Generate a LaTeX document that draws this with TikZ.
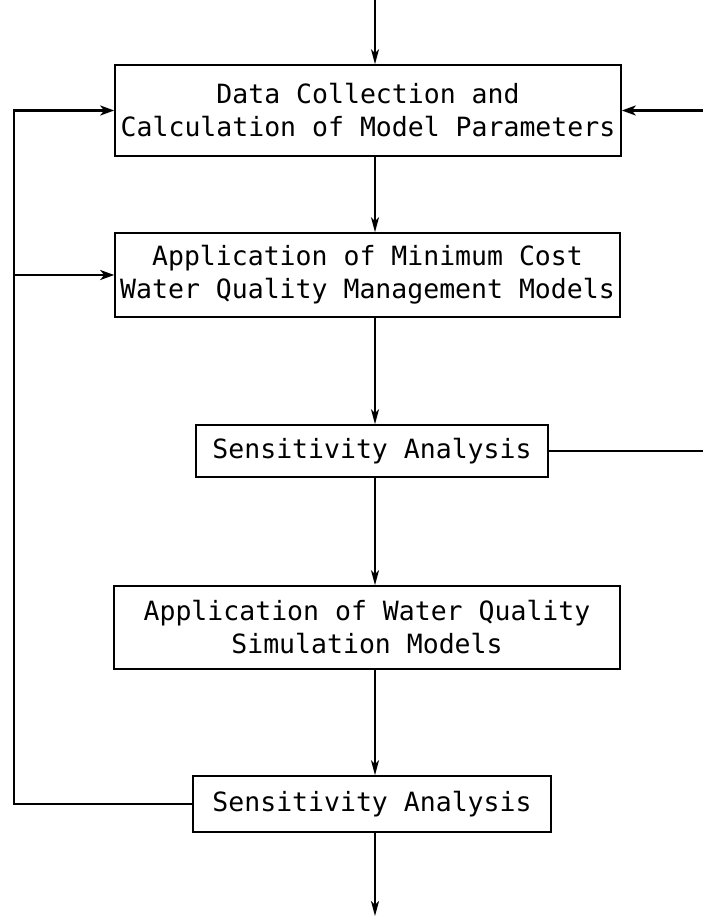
\documentclass[tikz,border=0pt]{standalone}
\usepackage{fontspec}
\setmonofont{DejaVu Sans Mono}
\usetikzlibrary{arrows.meta}
\tikzset{
    %Define standard arrow tip
    >={Stealth[length=15pt,width=8pt,inset=4pt]},
    %Define style for boxes
    stage/.style={
           rectangle,
           draw=black, line width=1.6pt,
           inner sep=0pt,
           font=\ttfamily\fontsize{26.5}{33}\selectfont,
           align=center},
    % Define arrow styles
    flow/.style={
           ->,
           line width=1.4pt},
    feedback/.style={
           -{Stealth[length=14pt,width=10pt,inset=4pt]},
           line width=2.8pt}
}

\begin{document}
\begin{tikzpicture}[x=1pt,y=1pt]
\useasboundingbox (0,0) rectangle (702,-918);
 %nodes
\node[stage, minimum width=506pt, minimum height=91pt] (1) at (368,-110.5) {Data Collection and\\Calculation of Model Parameters};
\node[stage, minimum width=505pt, minimum height=84pt] (2) at (367.5,-275) {Application of Minimum Cost\\Water Quality Management Models};
\node[stage, minimum width=352pt, minimum height=52pt] (3) at (372,-451) {Sensitivity Analysis};
\node[stage, minimum width=506pt, minimum height=83pt] (4) at (367,-627.5) {Application of Water Quality\\Simulation Models};
\node[stage, minimum width=358pt, minimum height=56pt] (5) at (372,-804) {Sensitivity Analysis};

 %free ends of the main line and the loops
\coordinate (in) at (375,0);
\coordinate (out) at (375,-916);
\coordinate (lft) at (14,-112);
\coordinate (rt) at (706,-112);

 %main line
\draw[flow] (in) -- (1.north -| in);
\draw[flow] (1.south -| in) -- (2.north -| in);
\draw[flow] (2.south -| in) -- (3.north -| in);
\draw[flow] (3.south -| in) -- (4.north -| in);
\draw[flow] (4.south -| in) -- (5.north -| in);
\draw[flow] (5.south -| in) -- (out);

 %feedback loops
\draw[feedback] (5.west) -| (lft) |- (1.west);
\draw[feedback] (2.west -| lft) -- (2.west);
\draw[feedback] (3.east) -| (rt) |- (1.east);
\end{tikzpicture}
\end{document}
